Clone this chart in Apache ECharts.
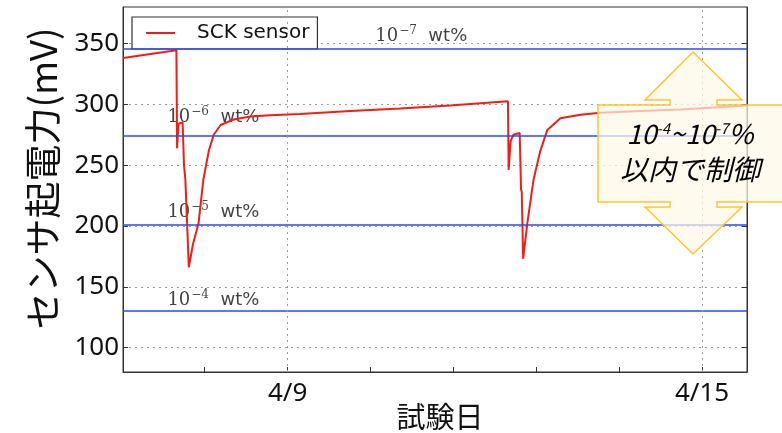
<!DOCTYPE html>
<html>
<head>
<meta charset="utf-8">
<script src="https://cdn.jsdelivr.net/npm/echarts@6/dist/echarts.min.js"></script>
<style>
  html, body { margin: 0; padding: 0; background: #fff; }
  #graph { width: 782px; height: 433px; }
</style>
</head>
<body>
<div id="graph"></div>
<script>
// x = days from 4/9
const sensorDays = [-2.38, -1.61, -1.60, -1.58, -1.52, -1.50, -1.48, -1.43, -1.37, -1.29, -1.22, -1.14, -1.07, -0.97, -0.78, -0.54, -0.25, 0.18, 0.91, 1.63, 2.35, 3.19,
  3.20, 3.23, 3.27, 3.36, 3.38, 3.39, 3.41, 3.47, 3.56, 3.66, 3.76, 3.95, 4.24, 4.53, 5.11, 5.69, 6.65]
const sensorMV = [338, 344.5, 264, 284, 285, 250, 238, 166, 185, 202, 238, 262, 275, 283, 287.5, 290, 291, 292, 294.5, 296.5, 299, 302.5,
  246, 270, 275, 276.5, 230, 228, 173, 202, 238, 262, 279, 288.5, 291.5, 293, 294.5, 295.7, 299]

const thresholdMV = [346, 274, 201, 130]
const thresholdExp = ['-7', '-6', '-5', '-4']
const thresholdLabelDays = [1.27, -1.74, -1.74, -1.74]
const thresholdLabelMV = [356, 289.5, 211.5, 139]

const xTickValues = [-1.2, 0, 1.2, 2.4, 3.6, 4.8, 6]
const xLabelValues = [0, 6]
const xLabels = ['4/9', '4/15']
const yTickValues = [100, 150, 200, 250, 300, 350]

let chart = echarts.init(document.getElementById('graph'))

let sensorData = sensorDays.map((d, i) => [d, sensorMV[i]])
let labelData = thresholdLabelDays.map((d, i) => ({value: [d, thresholdLabelMV[i]], exp: thresholdExp[i]}))

let option = {
  animation: false,
  grid: {
    left: 123, right: 35, top: 7, bottom: 61,
    outerBoundsMode: 'none',
    show: true, borderColor: '#333', borderWidth: 1
  },
  legend: {
    data: ['SCK sensor'],
    left: 132, top: 17,
    orient: 'vertical',
    backgroundColor: '#fff',
    borderColor: '#333', borderWidth: 1.2, borderRadius: 0,
    padding: [6, 8, 6, 14],
    icon: 'rect',
    itemWidth: 29, itemHeight: 2,
    textStyle: {fontFamily: 'DejaVu Sans', fontSize: 20, color: '#111', padding: [0, 0, 0, 17]}
  },
  xAxis: {
    type: 'value',
    min: -2.383, max: 6.651,
    axisLine: {onZero: false, lineStyle: {color: '#333', width: 1}},
    axisTick: {inside: true, length: 5, customValues: xTickValues, lineStyle: {color: '#333'}},
    axisLabel: {
      customValues: xLabelValues,
      formatter: v => xLabels[xLabelValues.indexOf(v)],
      fontFamily: 'Noto Sans', fontSize: 26, color: '#111', margin: 9
    },
    splitLine: {show: false},
    name: '試験日', nameLocation: 'middle', nameGap: 30, nameMoveOverlap: false,
    nameTextStyle: {fontFamily: 'Noto Sans CJK JP', fontSize: 29, color: '#111', padding: [0, 0, 0, 10]}
  },
  yAxis: [{
    type: 'value',
    min: 80, max: 380,
    axisLine: {show: true, onZero: false, lineStyle: {color: '#333', width: 1}},
    axisTick: {show: true, inside: true, length: 5, customValues: yTickValues, lineStyle: {color: '#333'}},
    axisLabel: {customValues: yTickValues, fontFamily: 'Noto Sans', fontSize: 26, color: '#111', margin: 4},
    splitLine: {show: true, lineStyle: {color: '#999', type: [2, 4], width: 1}},
    name: 'センサ起電力(mV)', nameLocation: 'middle', nameGap: 62, nameMoveOverlap: false,
    nameTextStyle: {fontFamily: 'Noto Sans CJK JP', fontSize: 37, color: '#111', padding: [0, 0, 0, 22]}
  }, {
    type: 'value',
    position: 'right',
    min: 80, max: 380,
    axisLine: {show: true, onZero: false, lineStyle: {color: '#333'}},
    axisTick: {show: true, inside: true, length: 5, customValues: yTickValues, lineStyle: {color: '#333'}},
    axisLabel: {show: false},
    splitLine: {show: false}
  }],
  series: [{
    name: 'thresholds',
    type: 'line',
    data: [],
    markLine: {
      silent: true,
      symbol: 'none',
      label: {show: false},
      lineStyle: {color: '#2a4af0', type: 'solid', width: 1.5},
      data: thresholdMV.map(v => ({yAxis: v}))
    }
  }, {
    name: 'grid-x',
    type: 'line',
    data: [],
    markLine: {
      silent: true,
      symbol: 'none',
      label: {show: false},
      lineStyle: {color: '#999', type: [2, 4], width: 1},
      data: xLabelValues.map(v => ({xAxis: v}))
    }
  }, {
    name: 'labels',
    type: 'scatter',
    symbolSize: 0,
    data: labelData,
    label: {
      show: true,
      position: 'right',
      distance: 0,
      formatter: p => '{n|10}{e|−' + p.data.exp.slice(1) + '}{w|  wt%}',
      rich: {
        n: {fontFamily: 'DejaVu Serif', fontSize: 18, color: '#111'},
        e: {fontFamily: 'DejaVu Serif', fontSize: 12, color: '#111', verticalAlign: 'bottom', padding: [0, 0, 10, 1]},
        w: {fontFamily: 'DejaVu Sans', fontSize: 18, color: '#111'}
      }
    }
  }, {
    name: 'SCK sensor',
    type: 'line',
    data: sensorData,
    showSymbol: false,
    symbol: 'none',
    lineStyle: {color: '#f01e14', width: 2},
    itemStyle: {color: '#f01e14'},
    z: 3
  }],
  graphic: [{
    type: 'polygon',
    z: 100,
    shape: {
      points: [[693, 52], [742, 100], [717, 100], [717, 105], [784, 105], [784, 202], [717, 202], [717, 207], [742, 207],
        [693, 254], [645, 207], [670, 207], [670, 202], [598, 202], [598, 105], [670, 105], [670, 100], [645, 100]]
    },
    style: {fill: 'rgba(253,248,230,0.72)', stroke: '#ffc530', lineWidth: 1.5}
  }, {
    type: 'text',
    z: 101,
    x: 690, y: 134,
    style: {
      text: '{a|10}{s|-4}{a|~10}{s|-7}{a|%}',
      align: 'center', verticalAlign: 'middle',
      rich: {
        a: {fontFamily: 'Noto Sans CJK JP', fontStyle: 'italic', fontSize: 27, fill: '#000'},
        s: {fontFamily: 'Noto Sans CJK JP', fontStyle: 'italic', fontSize: 15, fill: '#000', verticalAlign: 'top', padding: [0, 0, 12, 0]}
      }
    }
  }, {
    type: 'text',
    z: 101,
    x: 690, y: 169,
    style: {
      text: '以内で制御',
      align: 'center', verticalAlign: 'middle',
      fontFamily: 'Noto Sans CJK JP', fontStyle: 'italic', fontSize: 28, fill: '#000'
    }
  }]
}
chart.setOption(option)
</script>
</body>
</html>
